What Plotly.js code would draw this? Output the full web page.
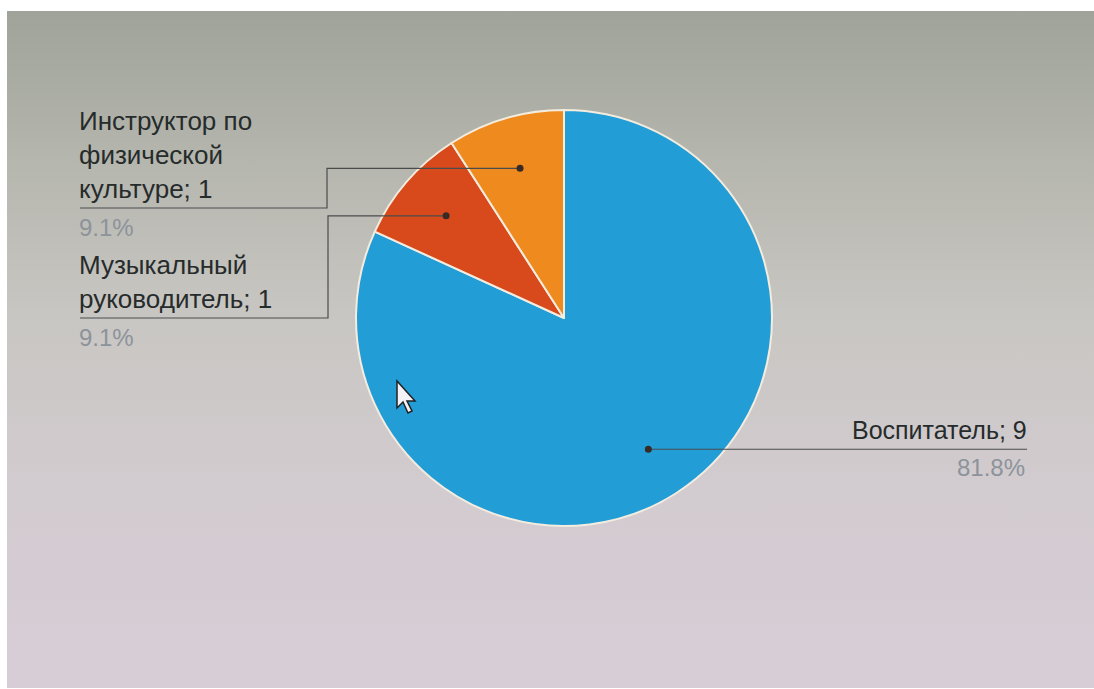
<!DOCTYPE html>
<html>
<head>
<meta charset="utf-8">
<script src="https://cdn.plot.ly/plotly-3.0.1.min.js"></script>
<style>
  html, body { margin:0; padding:0; background:#ffffff; }
  #bg { position:absolute; left:7px; top:11px; width:1087px; height:677px;
        background: linear-gradient(180deg, #9fa399 0%, #b5b6ae 22%, #c8c6c2 45%, #d2cbcf 70%, #d7cdd7 100%); }
  #chart { position:absolute; left:0; top:0; width:1094px; height:689px; }
</style>
</head>
<body>
<div id="bg"></div>
<div id="chart"></div>
<script>
// ---- data ----
const categories = ["Воспитатель", "Музыкальный руководитель", "Инструктор по физической культуре"];
const values = [9, 1, 1];
const percentLabels = ["81.8%", "9.1%", "9.1%"];
const labelTexts = ["Воспитатель; 9", "Музыкальный<br>руководитель; 1", "Инструктор по<br>физической<br>культуре; 1"];
const colors = ["#229dd6", "#d84a1b", "#ef8a1f"];

// ---- layout geometry (pixels) ----
const W = 1094, H = 689;
const cx = 564, cy = 318, R = 208;
const px = x => x / W;
const py = y => 1 - y / H;

// anchor points from data angles (clockwise from 12 o'clock)
const total = values.reduce((a, b) => a + b, 0);
let acc = 0;
const anchors = values.map(v => {
  const mid = (acc + v / 2) / total * 2 * Math.PI;
  acc += v;
  return { x: cx + 0.75 * R * Math.sin(mid), y: cy - 0.75 * R * Math.cos(mid) };
});

const lineColor = "#4a4c4c";
const textColor = "#262b2b";
const pctColor = "#8c939b";
const font = "'Liberation Sans', Arial, sans-serif";

const shapes = [];
const annotations = [];

// Воспитатель (right side)
{
  const a = anchors[0];
  const lineY = a.y, endX = 1027;
  shapes.push({ type: "line", xref: "paper", yref: "paper", x0: px(a.x), y0: py(a.y), x1: px(endX), y1: py(lineY),
                line: { color: lineColor, width: 1.2 } });
  annotations.push({ xref: "paper", yref: "paper", x: px(endX + 2), y: py(lineY - 3), xanchor: "right", yanchor: "bottom",
                     text: labelTexts[0], showarrow: false, align: "right",
                     font: { family: font, size: 25, color: textColor } });
  annotations.push({ xref: "paper", yref: "paper", x: px(endX), y: py(lineY + 3), xanchor: "right", yanchor: "top",
                     text: percentLabels[0], showarrow: false, align: "right",
                     font: { family: font, size: 24, color: pctColor } });
}
// left labels
const leftSpec = [
  { i: 2, elbowX: 327, lineY: 208 },
  { i: 1, elbowX: 328, lineY: 318 }
];
leftSpec.forEach(s => {
  const a = anchors[s.i];
  shapes.push({ type: "path", xref: "paper", yref: "paper",
    path: `M ${px(a.x)} ${py(a.y)} L ${px(s.elbowX)} ${py(a.y)} L ${px(s.elbowX)} ${py(s.lineY)} L ${px(80)} ${py(s.lineY)}`,
    line: { color: lineColor, width: 1.2 } });
  annotations.push({ xref: "paper", yref: "paper", x: px(77), y: py(s.lineY - 2), xanchor: "left", yanchor: "bottom",
                     text: labelTexts[s.i], showarrow: false, align: "left",
                     font: { family: font, size: 26, color: textColor } });
  annotations.push({ xref: "paper", yref: "paper", x: px(77), y: py(s.lineY + 4), xanchor: "left", yanchor: "top",
                     text: percentLabels[s.i], showarrow: false, align: "left",
                     font: { family: font, size: 24, color: pctColor } });
});
// dots at anchor points
anchors.forEach(a => {
  shapes.push({ type: "circle", xref: "paper", yref: "paper",
    x0: px(a.x - 3.5), x1: px(a.x + 3.5), y0: py(a.y + 3.5), y1: py(a.y - 3.5),
    fillcolor: "#3a2a26", line: { width: 0 } });
});
// mouse cursor (decoration)
{
  const ox = 397, oy = 381;
  const pts = [[0,0],[0,27],[6,21],[11,32],[15,30],[10,20],[18,20]];
  const d = pts.map((p, k) => (k ? "L " : "M ") + px(ox + p[0]) + " " + py(oy + p[1])).join(" ") + " Z";
  shapes.push({ type: "path", xref: "paper", yref: "paper", path: d,
    fillcolor: "#f4f2f6", line: { color: "#222", width: 1.5 } });
}

const trace = {
  type: "pie",
  labels: categories,
  values: values,
  sort: false,
  direction: "clockwise",
  rotation: 0,
  textinfo: "none",
  hoverinfo: "none",
  marker: { colors: colors, line: { color: "#f3ecdf", width: 2 } },
  domain: { x: [px(cx - R), px(cx + R)], y: [py(cy + R), py(cy - R)] },
  showlegend: false
};

const layout = {
  width: W, height: H,
  margin: { l: 0, r: 0, t: 0, b: 0 },
  paper_bgcolor: "rgba(0,0,0,0)",
  plot_bgcolor: "rgba(0,0,0,0)",
  showlegend: false,
  shapes: shapes,
  annotations: annotations
};

Plotly.newPlot("chart", [trace], layout, { displayModeBar: false, staticPlot: true });
</script>
</body>
</html>
